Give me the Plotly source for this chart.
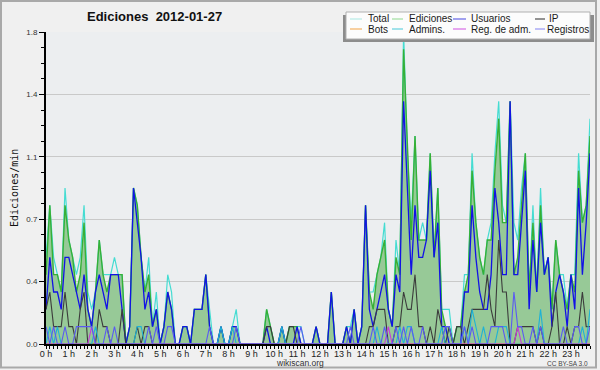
import plotly.graph_objects as go

# ---------------- data (10-minute steps, edits per minute) ----------------
hour_labels = ["0 h", "1 h", "2 h", "3 h", "4 h", "5 h", "6 h", "7 h", "8 h", "9 h", "10 h", "11 h",
               "12 h", "13 h", "14 h", "15 h", "16 h", "17 h", "18 h", "19 h", "20 h", "21 h", "22 h", "23 h"]

total = [
    0.5, 0.8, 0.5, 0.4, 0.3, 0.9, 0.6, 0.5, 0.4, 0.5, 0.8, 0.3, 0.2, 0.3, 0.6, 0.4, 0.4, 0.4, 0.5, 0.4, 0.4, 0, 0.1, 0.9,
    0.8, 0.5, 0.3, 0.5, 0.1, 0.3, 0, 0.1, 0.4, 0.3, 0, 0, 0.1, 0.1, 0, 0.2, 0.2, 0.2, 0.4, 0.2, 0, 0, 0.1, 0,
    0, 0.1, 0.2, 0, 0, 0, 0, 0, 0, 0, 0.2, 0.1, 0, 0, 0.1, 0, 0.1, 0.1, 0.1, 0.1, 0, 0, 0, 0.1,
    0, 0, 0, 0.3, 0, 0, 0, 0.1, 0.1, 0.2, 0, 0.1, 0.8, 0.3, 0.3, 0.4, 0.5, 0.7, 0.2, 0.1, 0.6, 0.4, 1.8, 1.1,
    0.7, 1.2, 0.6, 0.7, 0.6, 1.1, 0.5, 0.9, 0.2, 0.2, 0.2, 0, 0.1, 0.1, 0.4, 0.4, 1.1, 0.7, 0.5, 0.4, 0.6, 0.7, 1.1, 1.4,
    0.8, 0.7, 1.4, 0.7, 0.6, 0.9, 1.1, 0.3, 0.8, 0.3, 0.9, 0.4, 0.5, 0.2, 0.6, 0.4, 0.4, 0.2, 0.4, 0.4, 1.1, 0.7, 0.8, 1.3,
]
ediciones = [
    0.4, 0.8, 0.4, 0.4, 0.3, 0.8, 0.6, 0.5, 0.3, 0.4, 0.7, 0.2, 0.1, 0.3, 0.6, 0.4, 0.3, 0.4, 0.4, 0.4, 0.4, 0, 0.1, 0.9,
    0.8, 0.5, 0.3, 0.4, 0.1, 0.2, 0, 0.1, 0.3, 0.2, 0, 0, 0.1, 0.1, 0, 0.2, 0.2, 0.2, 0.4, 0.1, 0, 0, 0.1, 0,
    0, 0.1, 0.1, 0, 0, 0, 0, 0, 0, 0, 0.2, 0.1, 0, 0, 0.1, 0, 0.1, 0.1, 0.1, 0, 0, 0, 0, 0.1,
    0, 0, 0, 0.3, 0, 0, 0, 0.1, 0, 0.2, 0, 0.1, 0.8, 0.3, 0.2, 0.4, 0.5, 0.6, 0.2, 0.1, 0.5, 0.4, 1.7, 1.1,
    0.6, 1.2, 0.6, 0.6, 0.6, 1.1, 0.5, 0.9, 0.2, 0.1, 0.1, 0, 0.1, 0.1, 0.3, 0.4, 1.0, 0.7, 0.5, 0.4, 0.6, 0.6, 1.0, 1.3,
    0.7, 0.7, 1.4, 0.4, 0.5, 0.8, 1.1, 0.3, 0.7, 0.3, 0.8, 0.4, 0.5, 0.2, 0.6, 0.4, 0.3, 0.2, 0.4, 0.3, 1.0, 0.7, 0.8, 1.2,
]
usuarios = [
    0.2, 0.5, 0.3, 0.3, 0.2, 0.5, 0.5, 0.4, 0.3, 0.2, 0.4, 0.2, 0.1, 0.3, 0.4, 0.3, 0.2, 0.4, 0.4, 0.4, 0.2, 0, 0.1, 0.9,
    0.7, 0.5, 0.2, 0.3, 0.1, 0.2, 0, 0.1, 0.3, 0.2, 0, 0, 0.1, 0.1, 0, 0.2, 0.2, 0.2, 0.4, 0.1, 0, 0, 0.1, 0,
    0, 0.1, 0.1, 0, 0, 0, 0, 0, 0, 0, 0.1, 0, 0, 0, 0.1, 0, 0, 0, 0.1, 0, 0, 0, 0, 0.1,
    0, 0, 0, 0.3, 0, 0, 0, 0.1, 0, 0.2, 0, 0.1, 0.8, 0.2, 0.1, 0.2, 0.3, 0.4, 0.2, 0.1, 0.4, 0.3, 1.4, 0.9,
    0.4, 0.8, 0.5, 0.5, 0.6, 1.0, 0.5, 0.7, 0.1, 0.1, 0, 0, 0, 0, 0.3, 0.3, 0.8, 0.5, 0.3, 0.2, 0.2, 0.4, 0.9, 0.7,
    0.4, 0.4, 1.4, 0.4, 0.4, 0.7, 1.0, 0.2, 0.6, 0.3, 0.7, 0.4, 0.5, 0.1, 0.3, 0.4, 0.3, 0.1, 0.4, 0.2, 0.9, 0.4, 0.7, 1.1,
]
ip = [
    0.2, 0.3, 0.1, 0.1, 0.1, 0.3, 0.1, 0.1, 0, 0.2, 0.3, 0, 0, 0, 0.2, 0.1, 0.1, 0, 0, 0, 0.2, 0, 0, 0,
    0.1, 0, 0.1, 0.1, 0, 0, 0, 0, 0, 0, 0, 0, 0, 0, 0, 0, 0, 0, 0, 0, 0, 0, 0, 0,
    0, 0, 0, 0, 0, 0, 0, 0, 0, 0, 0.1, 0.1, 0, 0, 0, 0, 0.1, 0.1, 0, 0, 0, 0, 0, 0,
    0, 0, 0, 0, 0, 0, 0, 0, 0, 0, 0, 0, 0, 0.1, 0.1, 0.2, 0.2, 0.2, 0, 0, 0.1, 0.1, 0.3, 0.2,
    0.2, 0.4, 0.1, 0.1, 0, 0.1, 0, 0.2, 0.1, 0, 0.1, 0, 0.1, 0.1, 0, 0.1, 0.2, 0.2, 0.2, 0.2, 0.4, 0.2, 0.1, 0.6,
    0.3, 0.3, 0, 0, 0.1, 0.1, 0.1, 0.1, 0.1, 0, 0.1, 0, 0, 0.1, 0.3, 0, 0, 0.1, 0, 0.1, 0.1, 0.3, 0.1, 0.1,
]
bots = [
    0, 0, 0, 0, 0, 0, 0, 0, 0, 0, 0, 0, 0, 0, 0, 0, 0, 0, 0, 0, 0, 0, 0, 0,
    0, 0, 0, 0, 0, 0, 0, 0, 0, 0, 0, 0, 0, 0, 0, 0, 0, 0, 0, 0, 0, 0, 0, 0,
    0, 0, 0, 0, 0, 0, 0, 0, 0, 0, 0, 0, 0, 0, 0, 0, 0, 0, 0, 0, 0, 0, 0, 0,
    0, 0, 0, 0, 0, 0, 0, 0, 0, 0, 0, 0, 0, 0, 0, 0, 0, 0, 0, 0, 0, 0, 0, 0,
    0, 0, 0, 0, 0, 0, 0, 0, 0, 0, 0, 0, 0, 0, 0, 0, 0, 0, 0, 0, 0, 0, 0, 0,
    0, 0, 0, 0, 0, 0, 0, 0, 0, 0, 0, 0, 0, 0, 0, 0, 0, 0, 0, 0, 0, 0, 0, 0,
]
admins = [
    0, 0.1, 0, 0.1, 0, 0, 0, 0, 0, 0, 0, 0, 0, 0.1, 0, 0, 0, 0, 0, 0, 0, 0, 0, 0,
    0.1, 0.1, 0, 0, 0, 0, 0, 0, 0, 0, 0, 0, 0, 0, 0, 0, 0, 0, 0, 0, 0, 0, 0.1, 0,
    0, 0.1, 0, 0, 0, 0, 0, 0, 0, 0, 0, 0, 0, 0, 0.1, 0, 0, 0, 0, 0, 0, 0, 0, 0,
    0, 0, 0, 0, 0, 0, 0, 0, 0, 0, 0, 0, 0, 0, 0, 0.1, 0, 0, 0, 0, 0, 0.1, 0, 0.1,
    0.1, 0, 0, 0, 0, 0, 0, 0, 0.1, 0, 0, 0, 0, 0, 0.1, 0, 0.2, 0.1, 0, 0.1, 0, 0, 0, 0.1,
    0.1, 0.1, 0, 0, 0, 0, 0, 0, 0, 0, 0.2, 0, 0, 0, 0, 0, 0, 0, 0, 0, 0, 0.1, 0, 0.2,
]
reg_adm = [
    0, 0, 0, 0, 0, 0, 0, 0, 0, 0, 0, 0, 0.1, 0, 0, 0, 0, 0, 0, 0, 0, 0, 0, 0,
    0, 0, 0, 0, 0, 0, 0, 0, 0, 0, 0, 0, 0, 0, 0, 0, 0, 0, 0, 0, 0, 0, 0, 0,
    0, 0, 0, 0, 0, 0, 0, 0, 0, 0, 0, 0, 0, 0, 0, 0, 0, 0, 0, 0, 0, 0, 0, 0,
    0, 0, 0, 0, 0, 0, 0, 0, 0, 0, 0, 0, 0, 0, 0, 0, 0, 0, 0.1, 0, 0, 0, 0, 0,
    0, 0, 0, 0, 0, 0, 0, 0, 0, 0, 0, 0, 0, 0, 0, 0, 0, 0, 0, 0, 0, 0, 0, 0,
    0, 0, 0, 0, 0.1, 0, 0, 0, 0, 0, 0, 0, 0, 0, 0, 0, 0, 0, 0, 0, 0, 0, 0, 0,
]
registros = [
    0.1, 0, 0.1, 0, 0, 0.1, 0, 0, 0.1, 0.1, 0.1, 0.1, 0.1, 0, 0, 0, 0.1, 0, 0.1, 0, 0, 0, 0, 0,
    0, 0, 0, 0.1, 0, 0.1, 0, 0, 0.1, 0.1, 0, 0, 0, 0, 0, 0, 0, 0, 0, 0.1, 0, 0, 0, 0,
    0, 0, 0.1, 0, 0, 0, 0, 0, 0, 0, 0, 0, 0, 0, 0, 0, 0, 0, 0, 0.1, 0, 0, 0, 0,
    0, 0, 0, 0, 0, 0, 0, 0, 0.1, 0, 0, 0, 0, 0, 0.1, 0, 0, 0.1, 0, 0, 0.1, 0, 0.1, 0,
    0.1, 0, 0, 0.1, 0, 0, 0, 0, 0, 0.1, 0.1, 0, 0, 0, 0.1, 0, 0.1, 0, 0, 0, 0, 0.1, 0.1, 0.1,
    0.1, 0, 0, 0.3, 0.1, 0.1, 0, 0, 0.1, 0, 0.1, 0, 0, 0, 0, 0, 0.1, 0, 0, 0.1, 0.1, 0, 0, 0.1,
]

slots = list(range(len(total)))  # 10-minute slots of the day

# ---------------- geometry helpers (pixels -> paper coords) ----------------
W, H = 600, 370
ML, MR, MT, MB = 46, 10, 32, 26
PW, PH = W - ML - MR, H - MT - MB


def px(x):
    return (x - ML) / PW


def py(y):
    return (H - MB - y) / PH


SANS = "Liberation Sans"

fig = go.Figure()

# filled area for Ediciones
fig.add_trace(go.Scatter(x=slots, y=ediciones, mode="lines", line=dict(width=0),
                         fill="tozeroy", fillcolor="#97c997", hoverinfo="skip"))

series = [
    ("Total", total, "#45dcd2", 1.2),
    ("Ediciones", ediciones, "#36b036", 1.4),
    ("Usuarios", usuarios, "#1212e6", 1.3),
    ("IP", ip, "#3c3c3c", 1.1),
    ("Bots", bots, "#f0a030", 1.1),
    ("Admins.", admins, "#1fb2d6", 1.1),
    ("Reg. de adm.", reg_adm, "#c83cd8", 1.1),
    ("Registros", registros, "#5a5af2", 1.1),
]
for name, vals, color, w in series:
    fig.add_trace(go.Scatter(x=slots, y=vals, mode="lines", name=name,
                             line=dict(color=color, width=w)))

shapes = []
annotations = []

# outer frame
shapes.append(dict(type="rect", xref="paper", yref="paper",
                   x0=px(1), x1=px(596), y0=py(367.5), y1=py(1),
                   line=dict(color="#a9a9a9", width=2), fillcolor="rgba(0,0,0,0)", layer="above"))

# custom legend box with shadow
shapes.append(dict(type="rect", xref="paper", yref="paper",
                   x0=px(343), x1=px(594), y0=py(42), y1=py(15),
                   line=dict(width=0), fillcolor="#8c8c8c", layer="above"))
shapes.append(dict(type="rect", xref="paper", yref="paper",
                   x0=px(346), x1=px(590), y0=py(39), y1=py(12),
                   line=dict(color="#b0b0b0", width=1), fillcolor="#fcfcfc", layer="above"))

legend_items = [
    ("Total", "#a8e8e2", 350, 362, 366, 19),
    ("Ediciones", "#8ed88e", 392, 403, 407, 19),
    ("Usuarios", "#4646e2", 453, 466, 469, 19),
    ("IP", "#2a2a2a", 535, 545, 547, 19),
    ("Bots", "#f2a244", 350, 362, 366, 29),
    ("Admins.", "#46c8d8", 392, 403, 407, 29),
    ("Reg. de adm.", "#d050e2", 453, 466, 469, 29),
    ("Registros", "#8282f2", 535, 545, 545, 29),
]
for text, color, lx0, lx1, tx, ty in legend_items:
    shapes.append(dict(type="line", xref="paper", yref="paper",
                       x0=px(lx0), x1=px(lx1), y0=py(ty), y1=py(ty),
                       line=dict(color=color, width=1), layer="above"))
    annotations.append(dict(text=text, xref="paper", yref="paper", x=px(tx), y=py(ty),
                            xanchor="left", yanchor="middle", showarrow=False,
                            font=dict(family=SANS, size=10, color="#1a1a1a")))

# title
annotations.append(dict(text="<b>Ediciones\u00a0\u00a02012-01-27</b>", xref="paper", yref="paper",
                        x=px(154), y=py(17), xanchor="center", yanchor="middle", showarrow=False,
                        font=dict(family=SANS, size=13, color="#111111")))
# y axis title
annotations.append(dict(text="Ediciones/min", xref="paper", yref="paper",
                        x=px(14), y=py(188), xanchor="center", yanchor="middle", showarrow=False,
                        textangle=-90, font=dict(family="DejaVu Sans Mono", size=10, color="#111111")))
# footer
annotations.append(dict(text="wikiscan.org", xref="paper", yref="paper",
                        x=px(300), y=py(362.5), xanchor="center", yanchor="middle", showarrow=False,
                        font=dict(family=SANS, size=8.5, color="#333333")))
annotations.append(dict(text="CC BY-SA 3.0", xref="paper", yref="paper",
                        x=px(590), y=py(363.5), xanchor="right", yanchor="middle", showarrow=False,
                        font=dict(family=SANS, size=6.5, color="#444444")))

y_ticks = [0, 0.36, 0.72, 1.08, 1.44, 1.8]
y_labels = ["0.0", "0.4", "0.7", "1.1", "1.4", "1.8"]

fig.update_layout(
    width=W, height=H,
    margin=dict(l=ML, r=MR, t=MT, b=MB),
    paper_bgcolor="#f0f0f0",
    plot_bgcolor="#eceef0",
    showlegend=False,
    shapes=shapes,
    annotations=annotations,
    font=dict(family=SANS, color="#222222"),
    xaxis=dict(
        range=[0, len(total) - 1],
        tickmode="array",
        tickvals=[6 * h for h in range(len(hour_labels))],
        ticktext=hour_labels,
        ticks="outside", ticklen=3, tickwidth=1, tickcolor="#000000",
        ticklabelstandoff=-3,
        tickfont=dict(family=SANS, size=9, color="#222222"),
        showline=True, linecolor="#000000", linewidth=2,
        showgrid=False, zeroline=False,
        minor=dict(ticks="outside", ticklen=3, tickwidth=1, tickcolor="#000000",
                   dtick=1, tick0=0, showgrid=False),
        fixedrange=True,
    ),
    yaxis=dict(
        range=[0, 1.8],
        tickmode="array",
        tickvals=y_ticks,
        ticktext=y_labels,
        ticks="outside", ticklen=5, tickwidth=1, tickcolor="#000000",
        tickfont=dict(family=SANS, size=8, color="#333333"),
        showline=True, linecolor="#000000", linewidth=2,
        showgrid=True, gridcolor="#c9c9c9", gridwidth=1,
        zeroline=False,
        minor=dict(ticks="outside", ticklen=3, tickwidth=1, tickcolor="#000000",
                   dtick=0.09, tick0=0, showgrid=False),
        fixedrange=True,
    ),
)

fig.write_html("out.html", config=dict(displayModeBar=False),
               post_script="document.body.style.margin='0px';document.body.style.overflow='hidden';")
